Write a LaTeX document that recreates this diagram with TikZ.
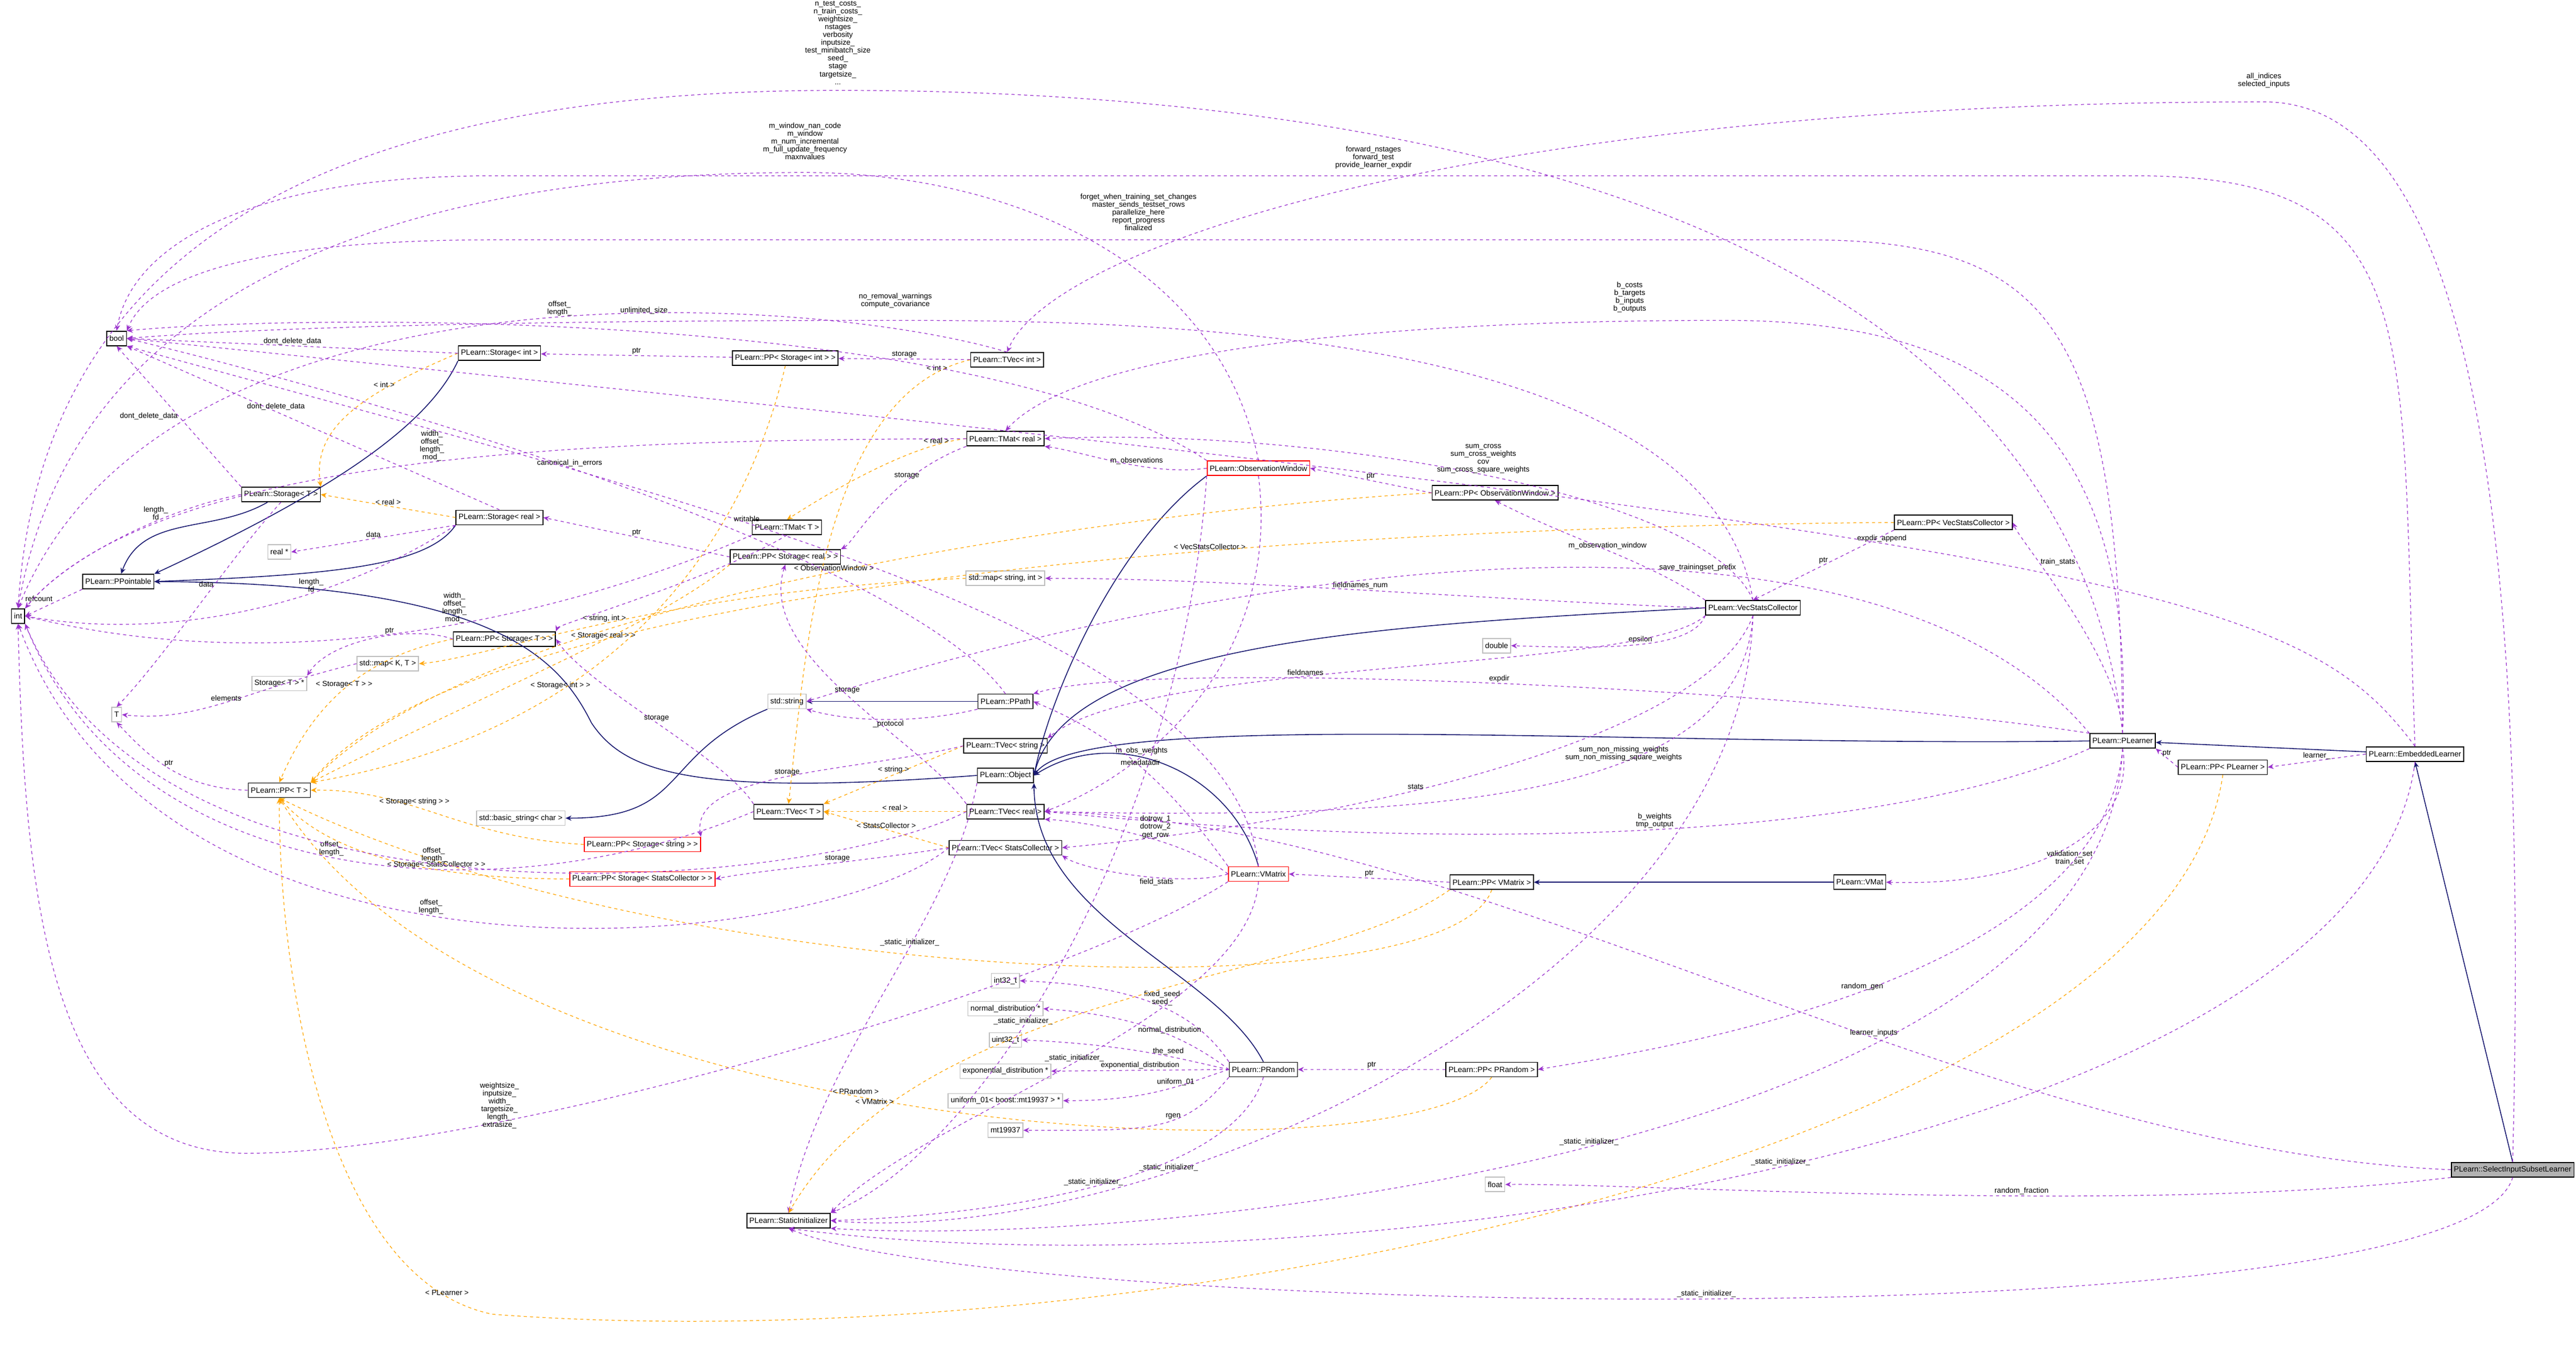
\documentclass[tikz,border=0pt]{standalone}
\usepackage{fontspec}
\setmainfont{Liberation Sans}
\usetikzlibrary{arrows.meta}
\definecolor{usecol}{HTML}{9A32CD}
\definecolor{tplcol}{HTML}{FFA500}
\definecolor{inhcol}{HTML}{191970}
\begin{document}
\begin{tikzpicture}[x=0.02941cm,y=-0.02941cm,
  every node/.style={font=\fontsize{3.9}{4.3}\selectfont},
  cls/.style={draw=black,line width=0.45pt,fill=white,inner sep=1.3pt,minimum height=0.26cm},
  ext/.style={draw=black!25,line width=0.45pt,fill=white,inner sep=1.3pt,minimum height=0.26cm},
  redc/.style={draw=red,line width=0.45pt,fill=white,inner sep=1.3pt,minimum height=0.26cm},
  main/.style={draw=black,line width=0.45pt,fill=black!30,inner sep=1.3pt,minimum height=0.26cm},
  use/.style={draw=usecol,line width=0.35pt,dash pattern=on 1.6pt off 1.6pt,-{Stealth[length=3pt,width=2.6pt]}},
  tpl/.style={draw=tplcol,line width=0.35pt,dash pattern=on 1.6pt off 1.6pt,-{Stealth[length=3pt,width=2.6pt]}},
  inh/.style={draw=inhcol,line width=0.45pt,-{Stealth[length=3pt,width=2.6pt]}},
  lb/.style={align=center,inner sep=0.5pt,font=\fontsize{3.8}{4}\selectfont}]
\useasboundingbox (0,0) rectangle (1568,829);
% nodes
\node[cls] (int) at (11,375) {int};
\node[cls] (bool) at (71,206) {bool};
\node[cls] (ppt) at (72,354) {PLearn::PPointable};
\node[cls] (stT) at (171,301) {PLearn::Storage< T >};
\node[cls] (stI) at (304,215) {PLearn::Storage< int >};
\node[cls] (stR) at (304,315) {PLearn::Storage< real >};
\node[ext] (realp) at (170,336) {real *};
\node[cls] (ppstI) at (478,218) {PLearn::PP< Storage< int > >};
\node[cls] (tvI) at (613,219) {PLearn::TVec< int >};
\node[cls] (tmR) at (612,267) {PLearn::TMat< real >};
\node[redc] (ow) at (766,285) {PLearn::ObservationWindow};
\node[cls] (ppow) at (910,300) {PLearn::PP< ObservationWindow >};
\node[cls] (tmT) at (479,321) {PLearn::TMat< T >};
\node[cls] (ppstR) at (478,339) {PLearn::PP< Storage< real > >};
\node[ext] (mapSI) at (612,352) {std::map< string, int >};
\node[cls] (vsc) at (1067,370) {PLearn::VecStatsCollector};
\node[cls] (ppvsc) at (1189,318) {PLearn::PP< VecStatsCollector >};
\node[ext] (dbl) at (911,393) {double};
\node[cls] (ppstT) at (307,389) {PLearn::PP< Storage< T > >};
\node[ext] (mapKT) at (236,404) {std::map< K, T >};
\node[ext] (stTp) at (170,416) {Storage< T > *};
\node[ext] (T) at (71,435) {T};
\node[ext] (str) at (479,427) {std::string};
\node[cls] (ppath) at (612,427) {PLearn::PPath};
\node[cls] (tvS) at (612,454) {PLearn::TVec< string >};
\node[cls] (obj) at (612,472) {PLearn::Object};
\node[cls] (ppT) at (170,481) {PLearn::PP< T >};
\node[ext] (bstr) at (317,498) {std::basic\_string< char >};
\node[cls] (tvT) at (480,494) {PLearn::TVec< T >};
\node[cls] (tvR) at (612,494) {PLearn::TVec< real >};
\node[redc] (ppstS) at (391,514) {PLearn::PP< Storage< string > >};
\node[cls] (tvSC) at (612,516) {PLearn::TVec< StatsCollector >};
\node[redc] (ppstSC) at (391,535) {PLearn::PP< Storage< StatsCollector > >};
\node[redc] (vm) at (766,532) {PLearn::VMatrix};
\node[cls] (ppvm) at (908,537) {PLearn::PP< VMatrix >};
\node[cls] (vmat) at (1132,537) {PLearn::VMat};
\node[cls] (pl) at (1292,451) {PLearn::PLearner};
\node[cls] (pppl) at (1353,467) {PLearn::PP< PLearner >};
\node[cls] (emb) at (1470,459) {PLearn::EmbeddedLearner};
\node[main,anchor=east] (sel) at (1567,712) {PLearn::SelectInputSubsetLearner};
\node[ext] (i32) at (612,597) {int32\_t};
\node[ext] (nd) at (612,614) {normal\_distribution *};
\node[ext] (u32) at (612,633) {uint32\_t};
\node[ext] (ed) at (612,652) {exponential\_distribution *};
\node[ext] (u01) at (612,670) {uniform\_01< boost::mt19937 > *};
\node[ext] (mt) at (612,688) {mt19937};
\node[cls] (prand) at (769,651) {PLearn::PRandom};
\node[cls] (pprand) at (908,651) {PLearn::PP< PRandom >};
\node[ext] (flt) at (910,721) {float};
\node[cls] (si) at (480,743) {PLearn::StaticInitializer};
% inheritance
\draw[inh] (stT) to[out=-150,in=70] (ppt);
\draw[inh] (stI.south west) .. controls (260,260) and (200,300) .. (ppt.north east);
\draw[inh] (stR.south west) .. controls (260,345) and (200,350) .. (ppt.east);
\draw[inh] (obj.west) .. controls (420,485) and (380,470) .. (360,440) .. controls (340,400) and (300,355) .. (ppt.east);
\draw[inh] (str.south west) .. controls (400,460) and (420,498) .. (bstr.east);
\draw[inh] (ppath) -- (str);
\draw[inh] (ow.south west) .. controls (680,330) and (640,420) .. (obj.east);
\draw[inh] (vsc.west) .. controls (850,380) and (650,390) .. (obj.east);
\draw[inh] (pl.west) .. controls (1000,455) and (660,430) .. (obj.east);
\draw[inh] (vm.north) .. controls (750,470) and (680,440) .. (obj.east);
\draw[inh] (prand.north) .. controls (740,590) and (630,560) .. (obj.south east);
\draw[inh] (vmat) -- (ppvm);
\draw[inh] (emb) -- (pl);
\draw[inh] (sel.north) -- (emb.south);
% templates
\draw[tpl] (stI.west) .. controls (220,240) and (190,260) .. node[lb,pos=0.3,above]{< int >} (stT.north east);
\draw[tpl] (stR.west) -- node[lb,above]{< real >} (stT.east);
\draw[tpl] (tmR.west) .. controls (560,270) and (520,290) .. node[lb,pos=0.2,above]{< real >} (tmT.north);
\draw[tpl] (tvI.west) .. controls (500,240) and (490,400) .. node[lb,pos=0.08,above]{< int >} (tvT.north);
\draw[tpl] (tvR) -- node[lb,above]{< real >} (tvT);
\draw[tpl] (tvS.west) -- node[lb,above]{< string >} (tvT.north east);
\draw[tpl] (tvSC.west) -- node[lb,above]{< StatsCollector >} (tvT.east);
\draw[tpl] (ppstI.south) .. controls (460,300) and (400,440) .. node[lb,pos=0.7,above]{< Storage< int > >} (ppT.north east);
\draw[tpl] (ppstR.south west) .. controls (400,380) and (300,420) .. node[lb,pos=0.4,above]{< Storage< real > >} (ppT.north east);
\draw[tpl] (ppstT.west) .. controls (220,400) and (190,430) .. node[lb,pos=0.5,above]{< Storage< T > >} (ppT.north);
\draw[tpl] (ppstS.west) .. controls (280,510) and (250,480) .. node[lb,pos=0.6,above]{< Storage< string > >} (ppT.east);
\draw[tpl] (ppstSC.west) .. controls (260,535) and (200,520) .. node[lb,pos=0.35,above]{< Storage< StatsCollector > >} (ppT.south);
\draw[tpl] (ppow.west) .. controls (700,310) and (300,360) .. node[lb,pos=0.5,above]{< ObservationWindow >} (ppT.north east);
\draw[tpl] (ppvsc.west) .. controls (900,320) and (300,340) .. node[lb,pos=0.4,above]{< VecStatsCollector >} (ppT.north east);
\draw[tpl] (ppvm.south) .. controls (880,620) and (400,600) .. (ppT.south);
\draw[tpl] (pprand.south) .. controls (860,720) and (300,700) .. node[lb,pos=0.55,above]{< PRandom >} (ppT.south);
\draw[tpl] (pppl.south) .. controls (1320,700) and (700,830) .. (300,800) .. controls (200,780) and (170,600) .. node[lb,pos=0.1,above]{< PLearner >} (ppT.south);
\draw[tpl] (mapSI.west) .. controls (400,360) and (300,400) .. node[lb,pos=0.5,above]{< string, int >} (mapKT.east);
% usage
\draw[use] (stT.north west) -- node[lb,pos=0.5,left]{dont\_delete\_data} (bool.south);
\draw[use] (stI.west) -- node[lb,above]{dont\_delete\_data} (bool.east);
\draw[use] (stR.north) -- node[lb,pos=0.6,above]{dont\_delete\_data} (bool.south east);
\draw[use] (stT.west) .. controls (100,310) and (40,340) .. node[lb,pos=0.35,above]{length\_\\fd} (int.north east);
\draw[use] (stR.south west) .. controls (200,370) and (100,390) .. node[lb,pos=0.35,above]{length\_\\fd} (int.east);
\draw[use] (stR.south west) -- node[lb,above]{data} (realp.east);
\draw[use] (stT.south) .. controls (140,340) and (100,400) .. node[lb,pos=0.4,left]{data} (T.north);
\draw[use] (ppt.south west) -- node[lb,above left]{refcount} (int.east);
\draw[use] (ppstI) -- node[lb,above]{ptr} (stI);
\draw[use] (ppstR.west) -- node[lb,above]{ptr} (stR.east);
\draw[use] (ppstT.west) .. controls (250,380) and (200,390) .. node[lb,pos=0.4,above]{ptr} (stTp.north east);
\draw[use] (ppT.west) .. controls (110,480) and (90,460) .. node[lb,above]{ptr} (T.south);
\draw[use] (mapKT.west) .. controls (150,420) and (120,440) .. node[lb,above]{elements} (T.east);
\draw[use] (tvI) -- node[lb,above]{storage} (ppstI);
\draw[use] (tvI.north) .. controls (500,180) and (100,150) .. node[lb,pos=0.45,above]{offset\_\\length\_} (int.north);
\draw[use] (tmR.south west) .. controls (540,290) and (520,330) .. node[lb,pos=0.3,above]{storage} (ppstR.north east);
\draw[use] (tmR.west) .. controls (400,268) and (100,270) .. node[lb,pos=0.5,above]{width\_\\offset\_\\length\_\\mod\_} (int.north east);
\draw[use] (tmT.south west) .. controls (380,360) and (200,420) .. node[lb,pos=0.5,above]{width\_\\offset\_\\length\_\\mod\_} (int.east);
\draw[use] (tmT.south) .. controls (440,350) and (340,380) .. (ppstT.north east);
\draw[use] (tvT.north west) .. controls (440,460) and (360,420) .. node[lb,pos=0.5,above]{storage} (ppstT.east);
\draw[use] (tvT.west) .. controls (300,560) and (80,540) .. node[lb,pos=0.5,above]{offset\_\\length\_} (int.south east);
\draw[use] (tvR.west) .. controls (500,540) and (100,580) .. node[lb,pos=0.55,above]{offset\_\\length\_} (int.south east);
\draw[use] (tvSC.west) .. controls (500,580) and (100,620) .. node[lb,pos=0.55,above]{offset\_\\length\_} (int.south);
\draw[use] (tvS.west) .. controls (520,470) and (420,470) .. node[lb,pos=0.5,above]{storage} (ppstS.north east);
\draw[use] (tvSC.west) .. controls (520,525) and (460,530) .. node[lb,pos=0.4,above]{storage} (ppstSC.east);
\draw[use] (tvR.north west) .. controls (560,450) and (460,400) .. node[lb,pos=0.5,above]{storage} (ppstR.south);
\draw[use] (ppath.south west) .. controls (560,440) and (520,440) .. node[lb,pos=0.5,below]{\_protocol} (str.south east);
\draw[use] (ppath.north) .. controls (560,350) and (300,260) .. node[lb,pos=0.6,above]{canonical\_in\_errors} (bool.east);
% ObservationWindow
\draw[use] (ow.west) .. controls (700,290) and (660,275) .. node[lb,pos=0.4,above]{m\_observations} (tmR.south east);
\draw[use] (ow.south) .. controls (780,400) and (700,470) .. node[lb,pos=0.7,above]{m\_obs\_weights} (tvR.east);
\draw[use] (ow.north) .. controls (740,150) and (600,105) .. (490,105) .. controls (200,105) and (40,200) .. (int.north);
\node[lb] (lowint) at (490,86) {m\_window\_nan\_code\\m\_window\\m\_num\_incremental\\m\_full\_update\_frequency\\maxnvalues};
\draw[use] (ow.north west) .. controls (600,190) and (200,190) .. (bool.north east);
\node[lb] (lunl) at (392,189) {unlimited\_size};
\draw[use] (ow.south west) .. controls (720,500) and (600,700) .. node[lb,pos=0.6,above]{\_static\_initializer\_} (si.north east);
\draw[use] (ppow.west) -- node[lb,above]{ptr} (ow.east);
% VecStatsCollector
\draw[use] (vsc.north west) .. controls (1000,340) and (960,330) .. node[lb,pos=0.5,above]{m\_observation\_window} (ppow.south);
\draw[use] (vsc.north) .. controls (1040,300) and (800,260) .. node[lb,pos=0.5,above]{sum\_cross\\sum\_cross\_weights\\cov\\sum\_cross\_square\_weights} (tmR.east);
\draw[use] (vsc.north) .. controls (1040,200) and (700,195) .. (545,195) .. controls (300,195) and (150,200) .. (bool.east);
\node[lb] (lnrw) at (545,183) {no\_removal\_warnings\\compute\_covariance};
\draw[use] (vsc.west) .. controls (900,365) and (750,352) .. node[lb,pos=0.5,above]{fieldnames\_num} (mapSI.east);
\draw[use] (vsc.south west) .. controls (1030,395) and (980,395) .. node[lb,pos=0.5,above]{epsilon} (dbl.east);
\draw[use] (vsc.south west) .. controls (1000,410) and (700,400) .. node[lb,pos=0.6,above]{fieldnames} (tvS.north east);
\draw[use] (vsc.south) .. controls (1040,450) and (820,500) .. node[lb,pos=0.6,above]{stats} (tvSC.east);
\draw[use] (vsc.south) .. controls (1060,480) and (900,500) .. node[lb,pos=0.4,above]{sum\_non\_missing\_weights\\sum\_non\_missing\_square\_weights} (tvR.east);
\draw[use] (vsc.south) .. controls (1060,600) and (700,760) .. node[lb,pos=0.7,above]{\_static\_initializer\_} (si.east);
\draw[use] (ppvsc.south west) -- node[lb,above]{ptr} (vsc.north);
% PLearner
\draw[use] (pl.north) .. controls (1290,400) and (1230,330) .. node[lb,pos=0.7,right]{train\_stats} (ppvsc.east);
\draw[use] (pl.north west) .. controls (1100,420) and (700,400) .. node[lb,pos=0.5,above]{expdir} (ppath.north east);
\draw[use] (pl.north) .. controls (1260,150) and (900,55) .. (510,55) .. controls (200,55) and (25,150) .. (int.north);
\node[lb] (lplint) at (510,26) {n\_test\_costs\_\\n\_train\_costs\_\\weightsize\_\\nstages\\verbosity\\inputsize\_\\test\_minibatch\_size\\seed\_\\stage\\targetsize\_\\...};
\draw[use] (pl.north) .. controls (1290,200) and (1250,146) .. (1100,146) -- (300,146) .. controls (150,146) and (90,170) .. (bool.north east);
\node[lb] (lforget) at (693,129) {forget\_when\_training\_set\_changes\\master\_sends\_testset\_rows\\parallelize\_here\\report\_progress\\finalized};
\draw[use] (pl.north) .. controls (1300,250) and (1200,195) .. (1050,195) .. controls (800,195) and (650,220) .. (tmR.north);
\node[lb] (lbc) at (992,181) {b\_costs\\b\_targets\\b\_inputs\\b\_outputs};
\draw[use] (pl.south west) .. controls (1150,510) and (900,520) .. node[lb,pos=0.5,above]{b\_weights\\tmp\_output} (tvR.east);
\draw[use] (pl.south) .. controls (1280,600) and (1000,640) .. node[lb,pos=0.5,above]{random\_gen} (pprand.east);
\draw[use] (pl.south) .. controls (1300,500) and (1250,540) .. node[lb,pos=0.6,right]{validation\_set\\train\_set} (vmat.east);
\draw[use] (pl.south) .. controls (1280,700) and (700,760) .. node[lb,pos=0.5,above]{\_static\_initializer\_} (si.south east);
\draw[use] (pl.north west) .. controls (1150,300) and (800,330) .. node[lb,pos=0.4,above]{save\_trainingset\_prefix} (str.east);
\draw[use] (emb.north) .. controls (1400,360) and (1300,330) .. node[lb,pos=0.55,above]{expdir\_append} (bool.east);
\draw[use] (pppl.west) -- node[lb,above]{ptr} (pl.south east);
\draw[use] (emb.west) -- node[lb,above]{learner\_} (pppl.east);
\draw[use] (emb.north) .. controls (1460,200) and (1480,107) .. (1300,107) -- (300,107) .. controls (150,107) and (80,150) .. (bool.north);
\node[lb] (lfwd) at (836,96) {forward\_nstages\\forward\_test\\provide\_learner\_expdir};
\draw[use] (emb.south) .. controls (1440,700) and (800,790) .. node[lb,pos=0.5,above]{\_static\_initializer\_} (si.south);
% SelectInputSubsetLearner
\draw[use] (sel.north) .. controls (1540,300) and (1500,62) .. (1378,62) .. controls (900,62) and (640,150) .. (tvI.north);
\node[lb] (lall) at (1378,49) {all\_indices\\selected\_inputs};
\draw[use] (sel.west) .. controls (1200,700) and (900,500) .. node[lb,pos=0.4,above]{learner\_inputs} (tvR.east);
\draw[use] (sel.south west) .. controls (1300,740) and (1000,720) .. node[lb,pos=0.4,above]{random\_fraction} (flt.east);
\draw[use] (sel.south) .. controls (1500,820) and (600,800) .. node[lb,pos=0.5,above]{\_static\_initializer\_} (si.south);
% VMatrix
\draw[use] (vm.north west) .. controls (700,460) and (660,440) .. node[lb,pos=0.4,above]{metadatadir} (ppath.east);
\draw[use] (vm.west) .. controls (720,510) and (660,500) .. node[lb,pos=0.4,above]{dotrow\_1\\dotrow\_2\\get\_row} (tvR.south east);
\draw[use] (vm.west) .. controls (720,540) and (660,530) .. node[lb,pos=0.4,below]{field\_stats} (tvSC.south east);
\draw[use] (vm.south west) .. controls (650,600) and (300,702) .. (150,702) .. controls (30,702) and (15,550) .. (int.south);
\node[lb] (lvmint) at (304,673) {weightsize\_\\inputsize\_\\width\_\\targetsize\_\\length\_\\extrasize\_};
\draw[use] (vm.north) .. controls (750,380) and (400,300) .. node[lb,pos=0.6,above]{writable} (bool.south east);
\draw[use] (vm.south) .. controls (760,620) and (560,680) .. node[lb,pos=0.5,above]{\_static\_initializer\_} (si.north east);
\draw[use] (ppvm.west) -- node[lb,above]{ptr} (vm.east);
% PRandom
\draw[use] (prand.north west) .. controls (730,620) and (700,600) .. node[lb,pos=0.5,above]{fixed\_seed\\seed\_} (i32.east);
\draw[use] (prand.west) .. controls (720,630) and (690,618) .. node[lb,pos=0.4,above]{normal\_distribution} (nd.east);
\draw[use] (prand.west) .. controls (720,645) and (690,636) .. node[lb,pos=0.4,above]{the\_seed} (u32.east);
\draw[use] (prand.west) -- node[lb,above]{exponential\_distribution} (ed.east);
\draw[use] (prand.west) .. controls (720,660) and (700,670) .. node[lb,pos=0.4,above]{uniform\_01} (u01.east);
\draw[use] (prand.south west) .. controls (720,690) and (700,688) .. node[lb,pos=0.4,above]{rgen} (mt.east);
\draw[use] (prand.south) .. controls (750,720) and (600,740) .. node[lb,pos=0.5,above]{\_static\_initializer\_} (si.east);
\draw[use] (pprand.west) -- node[lb,above]{ptr} (prand.east);
% Object
\draw[use] (obj.south west) .. controls (580,560) and (500,640) .. node[lb,pos=0.4,above]{\_static\_initializer\_} (si.north);
\draw[tpl] (ppvm.south west) .. controls (800,600) and (560,600) .. node[lb,pos=0.8,left]{< VMatrix >} (si.north);
\end{tikzpicture}
\end{document}
